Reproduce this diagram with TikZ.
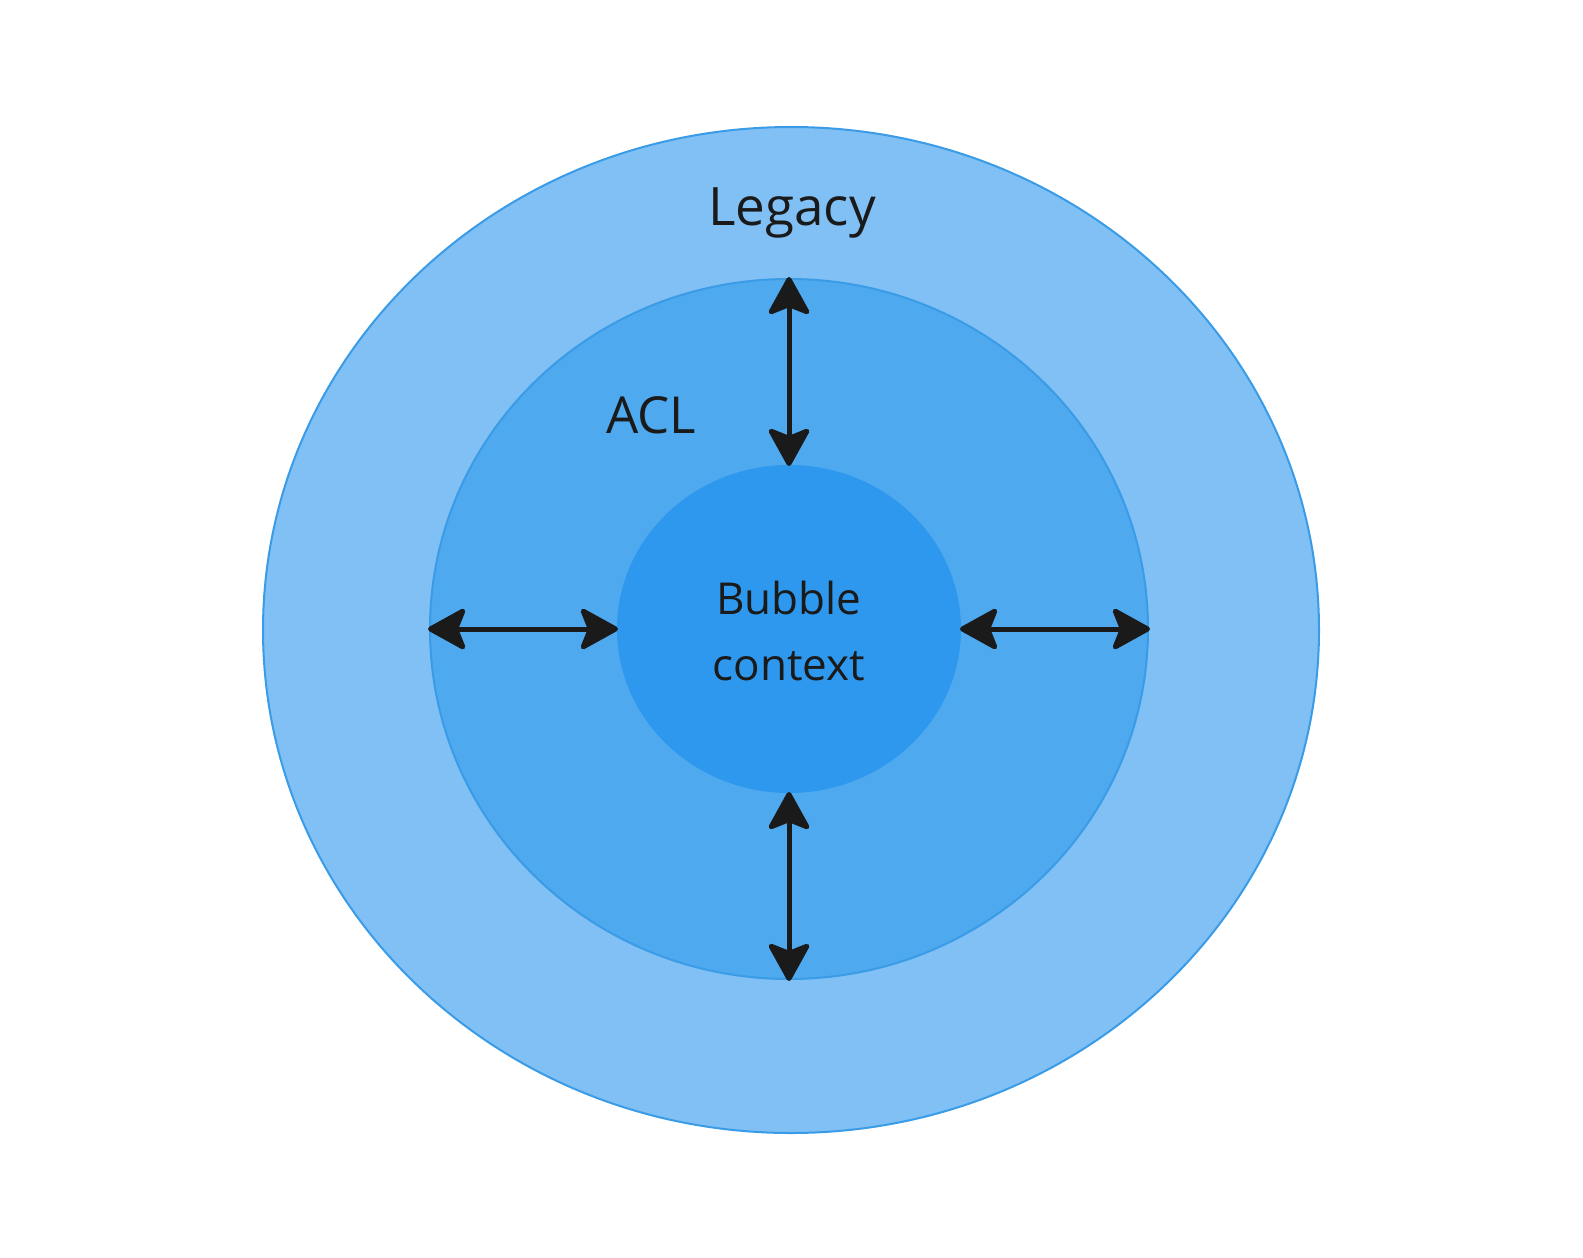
\documentclass[tikz,border=0pt]{standalone}
\usepackage{fontspec}
\setmainfont{Open Sans}
\usetikzlibrary{shapes.geometric,arrows.meta}
\definecolor{outerc}{HTML}{80C0F5}
\definecolor{midc}{HTML}{4FA9EF}
\definecolor{innc}{HTML}{2E98EE}
\definecolor{edgec}{HTML}{3A9BE6}
\definecolor{ink}{HTML}{1A1A1A}
\begin{document}
\begin{tikzpicture}[x=1pt,y=-1pt,
  ring/.style={ellipse,draw=edgec,line width=2pt,inner sep=0pt},
  lab/.style={text=ink,inner sep=0pt},
  dbl/.style={draw=ink,line width=5pt,{Stealth[length=42pt,width=46pt,inset=9pt,round]}-{Stealth[length=42pt,width=46pt,inset=9pt,round]},shorten <=-1pt,shorten >=-1pt}]
\useasboundingbox (0,0) rectangle (1583,1258);
\node[ring,fill=outerc,minimum width=1056pt,minimum height=1006pt] (out) at (791,630) {};
\node[ring,fill=midc,minimum width=718pt,minimum height=700pt] (mid) at (789,629) {};
\node[ring,fill=innc,draw=innc,minimum width=342pt,minimum height=326pt] (inn) at (789,629) {};
\node[lab,font=\fontsize{53}{60}\selectfont] (leg) at (792,213) {Legacy};
\node[lab,font=\fontsize{51}{60}\selectfont] (acl) at (651,415) {ACL};
\node[lab,font=\fontsize{44}{66}\selectfont,align=center] (bub) at (789,631) {Bubble\\context};
\draw[dbl] (mid.north) -- (inn.north);
\draw[dbl] (mid.south) -- (inn.south);
\draw[dbl] (mid.west) -- (inn.west);
\draw[dbl] (mid.east) -- (inn.east);
\end{tikzpicture}
\end{document}
